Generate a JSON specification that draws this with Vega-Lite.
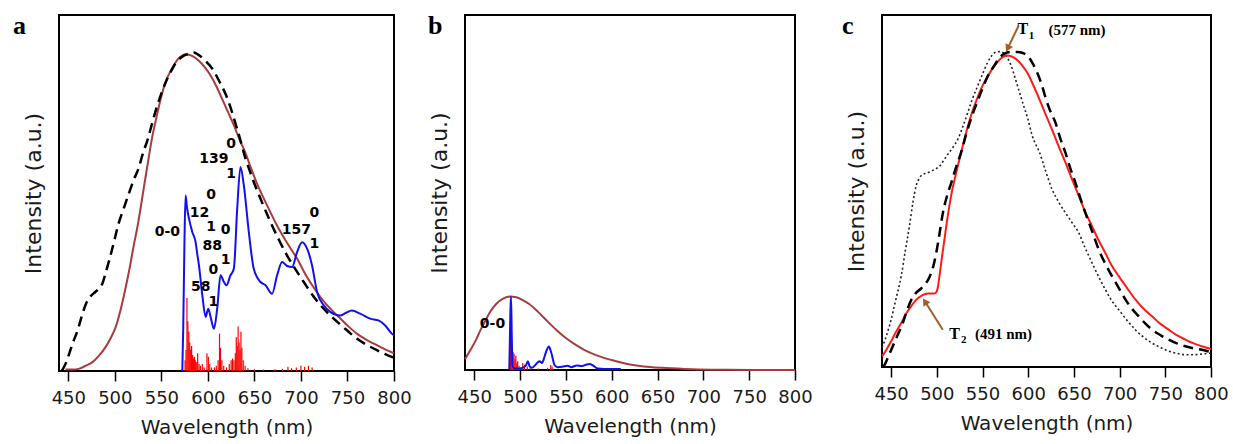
{
  "$schema": "https://vega.github.io/schema/vega-lite/v6.json",
  "background": "white",
  "padding": {"left": 12, "top": 12, "right": 0, "bottom": 0},
  "config": {
    "view": {"stroke": "black", "strokeWidth": 2},
    "axisX": {"labelFlush": false, "labelFont": "DejaVu Sans", "labelFontSize": 18, "labelColor": "#1a1a1a", "tickColor": "black", "tickSize": 10, "tickWidth": 1.5, "domain": false, "labelPadding": 8, "titleFont": "DejaVu Sans", "titleFontSize": 20, "titleFontWeight": "normal", "titleColor": "#1a1a1a", "titlePadding": 10, "grid": false},
    "axisY": {"labels": false, "ticks": false, "domain": false, "grid": false, "titleFont": "DejaVu Sans", "titleFontSize": 22, "titleFontWeight": "normal", "titleColor": "#1a1a1a", "titlePadding": 14}
  },
  "datasets": {
    "a_letter": [{"wl":390.6,"v":0.946,"t":"a"}],
    "b_letter": [{"wl":399.6,"v":0.946,"t":"b"}],
    "c_letter": [{"wl":396.2,"v":0.946,"t":"c"}],
    "a_brown": [
      {"wl":447,"v":0.004},{"wl":455,"v":0.004},{"wl":461,"v":0.006},{"wl":468,"v":0.014},{"wl":476,"v":0.025},{"wl":483,"v":0.043},{"wl":490,"v":0.067},{"wl":495,"v":0.09},{"wl":501,"v":0.124},{"wl":506,"v":0.17},{"wl":511,"v":0.227},{"wl":516,"v":0.29},{"wl":520,"v":0.348},{"wl":525,"v":0.415},{"wl":529,"v":0.479},{"wl":533,"v":0.545},{"wl":536.5,"v":0.601},{"wl":540,"v":0.655},{"wl":544,"v":0.704},{"wl":550,"v":0.772},{"wl":555,"v":0.815},{"wl":560,"v":0.843},{"wl":565,"v":0.866},{"wl":570,"v":0.882},{"wl":577,"v":0.89},{"wl":583,"v":0.885},{"wl":590,"v":0.872},{"wl":597,"v":0.852},{"wl":604,"v":0.825},{"wl":610,"v":0.795},{"wl":616,"v":0.76},{"wl":622,"v":0.725},{"wl":628,"v":0.69},{"wl":634,"v":0.65},{"wl":640,"v":0.615},{"wl":646,"v":0.572},{"wl":653,"v":0.525},{"wl":660,"v":0.485},{"wl":667,"v":0.447},{"wl":674,"v":0.41},{"wl":685,"v":0.36},{"wl":696,"v":0.315},{"wl":706,"v":0.266},{"wl":717,"v":0.222},{"wl":728,"v":0.185},{"wl":739,"v":0.156},{"wl":750,"v":0.128},{"wl":760,"v":0.105},{"wl":771,"v":0.087},{"wl":782,"v":0.072},{"wl":791,"v":0.06},{"wl":800,"v":0.05}
    ],
    "a_dashed": [
      {"wl":443,"v":0.0},{"wl":447,"v":0.02},{"wl":451,"v":0.049},{"wl":455,"v":0.08},{"wl":460,"v":0.114},{"wl":464,"v":0.15},{"wl":469,"v":0.189},{"wl":474,"v":0.21},{"wl":479,"v":0.222},{"wl":483,"v":0.232},{"wl":487,"v":0.248},{"wl":490,"v":0.275},{"wl":494,"v":0.311},{"wl":499,"v":0.362},{"wl":504,"v":0.414},{"wl":510,"v":0.46},{"wl":515,"v":0.498},{"wl":520,"v":0.535},{"wl":526,"v":0.573},{"wl":530,"v":0.61},{"wl":535,"v":0.648},{"wl":540,"v":0.695},{"wl":544,"v":0.732},{"wl":549,"v":0.772},{"wl":554,"v":0.807},{"wl":560,"v":0.84},{"wl":565,"v":0.863},{"wl":572,"v":0.882},{"wl":579,"v":0.891},{"wl":585,"v":0.895},{"wl":590,"v":0.888},{"wl":597,"v":0.872},{"wl":605,"v":0.848},{"wl":612,"v":0.815},{"wl":619,"v":0.778},{"wl":625,"v":0.735},{"wl":630,"v":0.692},{"wl":635,"v":0.648},{"wl":640,"v":0.6},{"wl":645,"v":0.562},{"wl":649,"v":0.533},{"wl":658,"v":0.475},{"wl":667,"v":0.42},{"wl":676,"v":0.37},{"wl":685,"v":0.325},{"wl":694,"v":0.286},{"wl":703,"v":0.25},{"wl":712,"v":0.215},{"wl":721,"v":0.185},{"wl":730,"v":0.16},{"wl":739,"v":0.138},{"wl":750,"v":0.113},{"wl":760,"v":0.091},{"wl":771,"v":0.073},{"wl":782,"v":0.058},{"wl":790,"v":0.048},{"wl":800,"v":0.037}
    ],
    "a_blue": [
      {"wl":572.5,"v":0},{"wl":573.5,"v":0.12},{"wl":574.8,"v":0.36},{"wl":576,"v":0.493},{"wl":577.5,"v":0.46},{"wl":579.7,"v":0.428},{"wl":583.3,"v":0.39},{"wl":586.8,"v":0.362},{"wl":588.5,"v":0.33},{"wl":590.4,"v":0.297},{"wl":594,"v":0.213},{"wl":597.6,"v":0.152},{"wl":600.4,"v":0.175},{"wl":602.9,"v":0.152},{"wl":606.5,"v":0.119},{"wl":610,"v":0.175},{"wl":613.6,"v":0.269},{"wl":617.2,"v":0.25},{"wl":620,"v":0.241},{"wl":624.3,"v":0.269},{"wl":627.9,"v":0.287},{"wl":631.5,"v":0.456},{"wl":635,"v":0.573},{"wl":638.6,"v":0.522},{"wl":644,"v":0.39},{"wl":649.3,"v":0.287},{"wl":656.5,"v":0.25},{"wl":661.9,"v":0.241},{"wl":669,"v":0.217},{"wl":674.4,"v":0.269},{"wl":679.8,"v":0.306},{"wl":685.1,"v":0.295},{"wl":690.5,"v":0.292},{"wl":695.8,"v":0.334},{"wl":701.2,"v":0.362},{"wl":706.6,"v":0.344},{"wl":711.9,"v":0.297},{"wl":717.3,"v":0.222},{"wl":724.4,"v":0.185},{"wl":731.5,"v":0.166},{"wl":742.2,"v":0.156},{"wl":748,"v":0.163},{"wl":754.8,"v":0.17},{"wl":763.7,"v":0.161},{"wl":774.4,"v":0.147},{"wl":783.3,"v":0.142},{"wl":790.5,"v":0.128},{"wl":797.6,"v":0.105},{"wl":800,"v":0.1}
    ],
    "a_sticks": [
      {"wl":575.5,"v":0.03},{"wl":576.5,"v":0.06},{"wl":577.5,"v":0.205},{"wl":578.5,"v":0.14},{"wl":579.5,"v":0.11},{"wl":580.5,"v":0.08},{"wl":581.5,"v":0.06},{"wl":582.5,"v":0.07},{"wl":583.5,"v":0.045},{"wl":584.5,"v":0.035},{"wl":585.5,"v":0.04},{"wl":586.5,"v":0.03},{"wl":587.5,"v":0.025},{"wl":589,"v":0.05},{"wl":590.5,"v":0.02},{"wl":592,"v":0.015},{"wl":594,"v":0.02},{"wl":596,"v":0.01},{"wl":599,"v":0.05},{"wl":600.5,"v":0.04},{"wl":602,"v":0.02},{"wl":604,"v":0.01},{"wl":607,"v":0.01},{"wl":609,"v":0.015},{"wl":611,"v":0.03},{"wl":612.5,"v":0.105},{"wl":613.5,"v":0.065},{"wl":615,"v":0.03},{"wl":617,"v":0.015},{"wl":620,"v":0.01},{"wl":623,"v":0.02},{"wl":625,"v":0.03},{"wl":626.5,"v":0.035},{"wl":628,"v":0.03},{"wl":629.5,"v":0.05},{"wl":630.5,"v":0.095},{"wl":631.5,"v":0.07},{"wl":632.5,"v":0.125},{"wl":633.5,"v":0.08},{"wl":634.5,"v":0.06},{"wl":635.5,"v":0.11},{"wl":636.5,"v":0.065},{"wl":638,"v":0.03},{"wl":640,"v":0.015},{"wl":643,"v":0.008},{"wl":650,"v":0.005},{"wl":660,"v":0.004},{"wl":672,"v":0.005},{"wl":680,"v":0.006},{"wl":686,"v":0.012},{"wl":690,"v":0.008},{"wl":695,"v":0.01},{"wl":700,"v":0.015},{"wl":704,"v":0.012},{"wl":708,"v":0.014},{"wl":712,"v":0.01}
    ],
    "a_labels": [
      {"wl":556.5,"v":0.39,"t":"0-0"},{"wl":591,"v":0.444,"t":"12"},{"wl":603.6,"v":0.493,"t":"0"},{"wl":603.6,"v":0.404,"t":"1"},{"wl":619,"v":0.397,"t":"0"},{"wl":604.7,"v":0.351,"t":"88"},{"wl":619,"v":0.311,"t":"1"},{"wl":605.8,"v":0.283,"t":"0"},{"wl":592.2,"v":0.236,"t":"58"},{"wl":605.8,"v":0.194,"t":"1"},{"wl":606.5,"v":0.595,"t":"139"},{"wl":625,"v":0.639,"t":"0"},{"wl":625,"v":0.553,"t":"1"},{"wl":695,"v":0.395,"t":"157"},{"wl":714.4,"v":0.445,"t":"0"},{"wl":714.4,"v":0.356,"t":"1"}
    ],
    "b_brown": [
      {"wl":440,"v":0.03},{"wl":446,"v":0.057},{"wl":452,"v":0.085},{"wl":457,"v":0.113},{"wl":463,"v":0.143},{"wl":468,"v":0.166},{"wl":474,"v":0.186},{"wl":482,"v":0.202},{"wl":489,"v":0.207},{"wl":496,"v":0.205},{"wl":503,"v":0.197},{"wl":510,"v":0.186},{"wl":520,"v":0.163},{"wl":530,"v":0.137},{"wl":540,"v":0.112},{"wl":550,"v":0.09},{"wl":560,"v":0.072},{"wl":570,"v":0.057},{"wl":583,"v":0.042},{"wl":600,"v":0.028},{"wl":617,"v":0.017},{"wl":635,"v":0.01},{"wl":655,"v":0.006},{"wl":680,"v":0.003},{"wl":710,"v":0.001},{"wl":750,"v":0.0003},{"wl":800,"v":0.0}
    ],
    "b_blue": [
      {"wl":488.3,"v":0},{"wl":489.2,"v":0.12},{"wl":490.2,"v":0.206},{"wl":491,"v":0.1},{"wl":491.8,"v":0.01},{"wl":495,"v":0.004},{"wl":500,"v":0.004},{"wl":504,"v":0.008},{"wl":506.7,"v":0.014},{"wl":508.6,"v":0.025},{"wl":510.5,"v":0.01},{"wl":513,"v":0.006},{"wl":517,"v":0.015},{"wl":521.3,"v":0.025},{"wl":524,"v":0.02},{"wl":526.8,"v":0.038},{"wl":529,"v":0.055},{"wl":531.5,"v":0.066},{"wl":534,"v":0.05},{"wl":537.7,"v":0.014},{"wl":541,"v":0.008},{"wl":546,"v":0.009},{"wl":552,"v":0.012},{"wl":556,"v":0.008},{"wl":562,"v":0.013},{"wl":567,"v":0.011},{"wl":572,"v":0.015},{"wl":576,"v":0.017},{"wl":580,"v":0.012},{"wl":585,"v":0.004},{"wl":592,"v":0.003},{"wl":610,"v":0.003}
    ],
    "b_sticks": [
      {"wl":489.5,"v":0.2},{"wl":490.5,"v":0.15},{"wl":491.5,"v":0.06},{"wl":492.5,"v":0.05},{"wl":493.5,"v":0.045},{"wl":494.5,"v":0.03},{"wl":495.5,"v":0.04},{"wl":496.5,"v":0.02},{"wl":497.5,"v":0.025},{"wl":499,"v":0.012},{"wl":501,"v":0.008},{"wl":503,"v":0.02},{"wl":505,"v":0.015},{"wl":508,"v":0.01},{"wl":511,"v":0.006},{"wl":520,"v":0.004},{"wl":530,"v":0.006},{"wl":533.5,"v":0.014},{"wl":535,"v":0.01}
    ],
    "b_labels": [{"wl":470,"v":0.13,"t":"0-0"}],
    "c_red": [
      {"wl":440,"v":0.03},{"wl":445,"v":0.05},{"wl":450,"v":0.073},{"wl":455,"v":0.098},{"wl":461,"v":0.125},{"wl":466,"v":0.15},{"wl":472,"v":0.173},{"wl":477,"v":0.19},{"wl":483,"v":0.202},{"wl":487,"v":0.207},{"wl":490,"v":0.209},{"wl":494,"v":0.209},{"wl":497.4,"v":0.209},{"wl":499.5,"v":0.213},{"wl":501,"v":0.225},{"wl":503,"v":0.26},{"wl":505.5,"v":0.31},{"wl":508.3,"v":0.362},{"wl":512,"v":0.43},{"wl":515.6,"v":0.486},{"wl":521,"v":0.55},{"wl":526.6,"v":0.61},{"wl":532,"v":0.665},{"wl":537.5,"v":0.715},{"wl":543,"v":0.755},{"wl":548.4,"v":0.79},{"wl":554,"v":0.818},{"wl":559.4,"v":0.842},{"wl":565,"v":0.862},{"wl":570.3,"v":0.877},{"wl":576,"v":0.885},{"wl":582,"v":0.882},{"wl":588.5,"v":0.871},{"wl":594,"v":0.855},{"wl":599.5,"v":0.834},{"wl":605,"v":0.804},{"wl":611.5,"v":0.765},{"wl":618,"v":0.724},{"wl":626.1,"v":0.674},{"wl":633,"v":0.629},{"wl":640.7,"v":0.581},{"wl":648,"v":0.533},{"wl":655.3,"v":0.486},{"wl":662,"v":0.443},{"wl":669.8,"v":0.4},{"wl":677,"v":0.36},{"wl":684.4,"v":0.324},{"wl":691,"v":0.29},{"wl":699,"v":0.258},{"wl":708,"v":0.225},{"wl":717.2,"v":0.192},{"wl":726,"v":0.166},{"wl":735.5,"v":0.144},{"wl":744,"v":0.124},{"wl":753.7,"v":0.106},{"wl":762,"v":0.091},{"wl":771.9,"v":0.078},{"wl":781,"v":0.067},{"wl":790.1,"v":0.059},{"wl":800,"v":0.051}
    ],
    "c_dashed": [
      {"wl":441,"v":0.0},{"wl":443,"v":0.007},{"wl":447,"v":0.03},{"wl":451.8,"v":0.059},{"wl":457,"v":0.09},{"wl":462.8,"v":0.125},{"wl":467,"v":0.158},{"wl":471.9,"v":0.19},{"wl":477,"v":0.21},{"wl":482.8,"v":0.223},{"wl":487,"v":0.235},{"wl":492,"v":0.256},{"wl":496,"v":0.285},{"wl":499.2,"v":0.322},{"wl":503,"v":0.38},{"wl":506.5,"v":0.436},{"wl":511,"v":0.485},{"wl":515.6,"v":0.522},{"wl":521,"v":0.567},{"wl":526.6,"v":0.61},{"wl":532,"v":0.66},{"wl":537.5,"v":0.706},{"wl":543,"v":0.745},{"wl":548.4,"v":0.781},{"wl":555,"v":0.822},{"wl":563,"v":0.857},{"wl":568,"v":0.877},{"wl":574,"v":0.89},{"wl":581,"v":0.895},{"wl":588.5,"v":0.895},{"wl":594,"v":0.892},{"wl":600,"v":0.882},{"wl":605,"v":0.862},{"wl":610,"v":0.835},{"wl":615,"v":0.8},{"wl":619,"v":0.765},{"wl":624,"v":0.728},{"wl":629.7,"v":0.695},{"wl":635,"v":0.65},{"wl":640.7,"v":0.609},{"wl":646,"v":0.565},{"wl":651.6,"v":0.524},{"wl":657,"v":0.48},{"wl":662.5,"v":0.438},{"wl":670,"v":0.385},{"wl":677.1,"v":0.334},{"wl":684,"v":0.295},{"wl":691.7,"v":0.258},{"wl":699,"v":0.225},{"wl":706.3,"v":0.192},{"wl":713,"v":0.167},{"wl":720.9,"v":0.144},{"wl":728,"v":0.124},{"wl":735.5,"v":0.106},{"wl":745,"v":0.09},{"wl":753.7,"v":0.078},{"wl":762,"v":0.068},{"wl":771.9,"v":0.059},{"wl":781,"v":0.053},{"wl":790.1,"v":0.049},{"wl":800,"v":0.042}
    ],
    "c_dotted": [
      {"wl":440,"v":0.055},{"wl":445,"v":0.09},{"wl":450,"v":0.135},{"wl":455,"v":0.19},{"wl":461,"v":0.258},{"wl":465.5,"v":0.33},{"wl":470,"v":0.4},{"wl":474,"v":0.47},{"wl":477.3,"v":0.514},{"wl":481,"v":0.537},{"wl":484.6,"v":0.547},{"wl":489,"v":0.551},{"wl":493.7,"v":0.556},{"wl":498,"v":0.562},{"wl":502.9,"v":0.57},{"wl":507,"v":0.585},{"wl":512,"v":0.604},{"wl":517,"v":0.622},{"wl":523,"v":0.647},{"wl":528,"v":0.68},{"wl":533.9,"v":0.723},{"wl":539,"v":0.762},{"wl":544.8,"v":0.799},{"wl":550,"v":0.832},{"wl":555.7,"v":0.866},{"wl":560,"v":0.884},{"wl":564.8,"v":0.895},{"wl":569,"v":0.896},{"wl":574,"v":0.89},{"wl":578,"v":0.875},{"wl":581.2,"v":0.857},{"wl":586,"v":0.818},{"wl":590.4,"v":0.781},{"wl":595,"v":0.742},{"wl":599.5,"v":0.706},{"wl":604,"v":0.66},{"wl":608.6,"v":0.63},{"wl":612,"v":0.612},{"wl":618,"v":0.565},{"wl":626.1,"v":0.505},{"wl":633,"v":0.47},{"wl":640.7,"v":0.438},{"wl":648,"v":0.41},{"wl":655.3,"v":0.381},{"wl":662,"v":0.34},{"wl":669.8,"v":0.296},{"wl":677,"v":0.257},{"wl":684.4,"v":0.22},{"wl":691,"v":0.19},{"wl":699,"v":0.163},{"wl":708,"v":0.133},{"wl":717.2,"v":0.106},{"wl":726,"v":0.085},{"wl":735.5,"v":0.068},{"wl":745,"v":0.055},{"wl":753.7,"v":0.045},{"wl":762,"v":0.039},{"wl":771.9,"v":0.035},{"wl":781,"v":0.035},{"wl":790,"v":0.037},{"wl":800,"v":0.04}
    ],
    "c_arrow1": [{"wl":589.6,"v":0.97,"wl2":577.5,"v2":0.905}],
    "c_arrow2": [{"wl":506.5,"v":0.106,"wl2":487,"v2":0.186}],
    "c_T": [{"wl":594,"v":0.96,"t":"T"},{"wl":519.3,"v":0.093,"t":"T"}],
    "c_sub": [{"wl":603.5,"v":0.941,"t":"1"},{"wl":529.5,"v":0.076,"t":"2"}],
    "c_nm": [{"wl":653.4,"v":0.956,"t":"(577 nm)"},{"wl":572.9,"v":0.093,"t":"(491 nm)"}]
  },
  "spacing": 13,
  "hconcat": [
    {
      "width": 335, "height": 356,
      "layer": [
        {"data": {"name": "a_brown"}, "mark": {"type": "line", "color": "#a83c3c", "strokeWidth": 2, "interpolate": "monotone"},
         "encoding": {"x": {"field": "wl", "type": "quantitative", "title": "Wavelength (nm)", "scale": {"domain": [440, 800], "nice": false, "zero": false}, "axis": {"values": [450,500,550,600,650,700,750,800]}}, "y": {"field": "v", "type": "quantitative", "title": "Intensity (a.u.)", "scale": {"domain": [0, 1], "nice": false}}}},
        {"data": {"name": "a_dashed"}, "mark": {"type": "line", "color": "black", "strokeWidth": 2.5, "strokeDash": [10, 6], "interpolate": "monotone"},
         "encoding": {"x": {"field": "wl", "type": "quantitative", "title": "Wavelength (nm)"}, "y": {"field": "v", "type": "quantitative", "title": "Intensity (a.u.)"}}},
        {"data": {"name": "a_sticks"}, "mark": {"type": "rule", "color": "#ff0000", "strokeWidth": 1.2},
         "encoding": {"x": {"field": "wl", "type": "quantitative", "title": "Wavelength (nm)"}, "y": {"field": "v", "type": "quantitative", "title": "Intensity (a.u.)"}, "y2": {"datum": 0}}},
        {"data": {"name": "a_blue"}, "mark": {"type": "line", "color": "#1010f0", "strokeWidth": 2, "interpolate": "monotone"},
         "encoding": {"x": {"field": "wl", "type": "quantitative", "title": "Wavelength (nm)"}, "y": {"field": "v", "type": "quantitative", "title": "Intensity (a.u.)"}}},
        {"data": {"name": "a_labels"}, "mark": {"type": "text", "font": "DejaVu Sans", "fontSize": 14, "fontWeight": "bold", "color": "black", "align": "center", "baseline": "middle"},
         "encoding": {"x": {"field": "wl", "type": "quantitative", "title": "Wavelength (nm)"}, "y": {"field": "v", "type": "quantitative", "title": "Intensity (a.u.)"}, "text": {"field": "t"}}},
        {"data": {"name": "a_letter"}, "mark": {"type": "text", "font": "Liberation Serif", "fontSize": 26, "fontWeight": "bold", "color": "black", "align": "left", "baseline": "alphabetic"},
         "encoding": {"x": {"field": "wl", "type": "quantitative", "title": "Wavelength (nm)"}, "y": {"field": "v", "type": "quantitative", "title": "Intensity (a.u.)"}, "text": {"field": "t"}}}
      ]
    },
    {
      "spacing": 26,
      "hconcat": [
        {
          "width": 330, "height": 355,
          "layer": [
            {"data": {"name": "b_brown"}, "mark": {"type": "line", "color": "#a83c3c", "strokeWidth": 2, "interpolate": "monotone"},
             "encoding": {"x": {"field": "wl", "type": "quantitative", "title": "Wavelength (nm)", "scale": {"domain": [440, 800], "nice": false, "zero": false}, "axis": {"values": [450,500,550,600,650,700,750,800]}}, "y": {"field": "v", "type": "quantitative", "title": "Intensity (a.u.)", "scale": {"domain": [0, 1], "nice": false}}}},
            {"data": {"name": "b_sticks"}, "mark": {"type": "rule", "color": "#ff0000", "strokeWidth": 1.2},
             "encoding": {"x": {"field": "wl", "type": "quantitative", "title": "Wavelength (nm)"}, "y": {"field": "v", "type": "quantitative", "title": "Intensity (a.u.)"}, "y2": {"datum": 0}}},
            {"data": {"name": "b_blue"}, "mark": {"type": "line", "color": "#1010f0", "strokeWidth": 2, "interpolate": "monotone"},
             "encoding": {"x": {"field": "wl", "type": "quantitative", "title": "Wavelength (nm)"}, "y": {"field": "v", "type": "quantitative", "title": "Intensity (a.u.)"}}},
            {"data": {"name": "b_labels"}, "mark": {"type": "text", "font": "DejaVu Sans", "fontSize": 14, "fontWeight": "bold", "color": "black", "align": "center", "baseline": "middle"},
             "encoding": {"x": {"field": "wl", "type": "quantitative", "title": "Wavelength (nm)"}, "y": {"field": "v", "type": "quantitative", "title": "Intensity (a.u.)"}, "text": {"field": "t"}}},
            {"data": {"name": "b_letter"}, "mark": {"type": "text", "font": "Liberation Serif", "fontSize": 26, "fontWeight": "bold", "color": "black", "align": "left", "baseline": "alphabetic"},
             "encoding": {"x": {"field": "wl", "type": "quantitative", "title": "Wavelength (nm)"}, "y": {"field": "v", "type": "quantitative", "title": "Intensity (a.u.)"}, "text": {"field": "t"}}}
          ]
        },
        {
          "width": 329, "height": 352,
          "layer": [
            {"data": {"name": "c_dotted"}, "mark": {"type": "line", "color": "#222222", "strokeWidth": 1.6, "strokeDash": [2, 2.5], "interpolate": "monotone"},
             "encoding": {"x": {"field": "wl", "type": "quantitative", "title": "Wavelength (nm)", "scale": {"domain": [440, 800], "nice": false, "zero": false}, "axis": {"values": [450,500,550,600,650,700,750,800]}}, "y": {"field": "v", "type": "quantitative", "title": "Intensity (a.u.)", "scale": {"domain": [0, 1], "nice": false}}}},
            {"data": {"name": "c_red"}, "mark": {"type": "line", "color": "#ff1a1a", "strokeWidth": 2, "interpolate": "monotone"},
             "encoding": {"x": {"field": "wl", "type": "quantitative", "title": "Wavelength (nm)"}, "y": {"field": "v", "type": "quantitative", "title": "Intensity (a.u.)"}}},
            {"data": {"name": "c_dashed"}, "mark": {"type": "line", "color": "black", "strokeWidth": 2.5, "strokeDash": [10, 6], "interpolate": "monotone"},
             "encoding": {"x": {"field": "wl", "type": "quantitative", "title": "Wavelength (nm)"}, "y": {"field": "v", "type": "quantitative", "title": "Intensity (a.u.)"}}},
            {"data": {"name": "c_arrow1"}, "mark": {"type": "rule", "color": "#a0602a", "strokeWidth": 2},
             "encoding": {"x": {"field": "wl", "type": "quantitative", "title": "Wavelength (nm)"}, "y": {"field": "v", "type": "quantitative", "title": "Intensity (a.u.)"}, "x2": {"field": "wl2"}, "y2": {"field": "v2"}}},
            {"data": {"name": "c_arrow1"}, "mark": {"type": "point", "shape": "triangle-up", "filled": true, "color": "#a0602a", "opacity": 1, "size": 70, "angle": 206},
             "encoding": {"x": {"field": "wl2", "type": "quantitative", "title": "Wavelength (nm)"}, "y": {"field": "v2", "type": "quantitative", "title": "Intensity (a.u.)"}}},
            {"data": {"name": "c_arrow2"}, "mark": {"type": "rule", "color": "#a0602a", "strokeWidth": 2},
             "encoding": {"x": {"field": "wl", "type": "quantitative", "title": "Wavelength (nm)"}, "y": {"field": "v", "type": "quantitative", "title": "Intensity (a.u.)"}, "x2": {"field": "wl2"}, "y2": {"field": "v2"}}},
            {"data": {"name": "c_arrow2"}, "mark": {"type": "point", "shape": "triangle-up", "filled": true, "color": "#a0602a", "opacity": 1, "size": 70, "angle": 327},
             "encoding": {"x": {"field": "wl2", "type": "quantitative", "title": "Wavelength (nm)"}, "y": {"field": "v2", "type": "quantitative", "title": "Intensity (a.u.)"}}},
            {"data": {"name": "c_T"}, "mark": {"type": "text", "font": "Liberation Serif", "fontSize": 16, "fontWeight": "bold", "color": "black", "align": "center", "baseline": "middle"},
             "encoding": {"x": {"field": "wl", "type": "quantitative", "title": "Wavelength (nm)"}, "y": {"field": "v", "type": "quantitative", "title": "Intensity (a.u.)"}, "text": {"field": "t"}}},
            {"data": {"name": "c_sub"}, "mark": {"type": "text", "font": "Liberation Serif", "fontSize": 11, "fontWeight": "bold", "color": "black", "align": "center", "baseline": "middle"},
             "encoding": {"x": {"field": "wl", "type": "quantitative", "title": "Wavelength (nm)"}, "y": {"field": "v", "type": "quantitative", "title": "Intensity (a.u.)"}, "text": {"field": "t"}}},
            {"data": {"name": "c_nm"}, "mark": {"type": "text", "font": "Liberation Serif", "fontSize": 15, "fontWeight": "bold", "color": "black", "align": "center", "baseline": "middle"},
             "encoding": {"x": {"field": "wl", "type": "quantitative", "title": "Wavelength (nm)"}, "y": {"field": "v", "type": "quantitative", "title": "Intensity (a.u.)"}, "text": {"field": "t"}}},
            {"data": {"name": "c_letter"}, "mark": {"type": "text", "font": "Liberation Serif", "fontSize": 26, "fontWeight": "bold", "color": "black", "align": "left", "baseline": "alphabetic"},
             "encoding": {"x": {"field": "wl", "type": "quantitative", "title": "Wavelength (nm)"}, "y": {"field": "v", "type": "quantitative", "title": "Intensity (a.u.)"}, "text": {"field": "t"}}}
          ]
        }
      ]
    }
  ]
}
